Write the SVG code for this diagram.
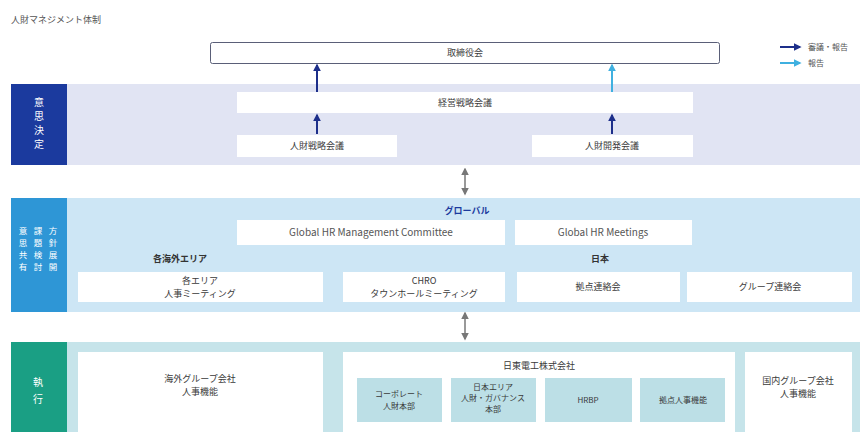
<svg xmlns="http://www.w3.org/2000/svg" width="860" height="432" viewBox="0 0 860 432">
<defs>
<style>
text{font-family:"Noto Sans CJK JP","Noto Sans",sans-serif;}
.t{font-size:9px;fill:#3a3a3a;text-anchor:middle;}
.en{font-size:10px;fill:#555;text-anchor:middle;}
.lbl{font-size:10px;fill:#fff;text-anchor:middle;}
.sm{font-size:8.5px;fill:#fff;text-anchor:middle;}
.w{fill:#fff;}
.in{fill:#bcdfe6;}
.hd{font-size:9px;font-weight:bold;text-anchor:middle;}
.nv{stroke:#1d2f8a;stroke-width:2;fill:none;}
.lb{stroke:#3fb0e0;stroke-width:2;fill:none;}
.gr{stroke:#777;stroke-width:1.5;fill:none;}
</style>
<marker id="mn" viewBox="0 0 10 10" refX="8" refY="5" markerWidth="4" markerHeight="4" orient="auto-start-reverse"><path d="M0,0 L10,5 L0,10 z" fill="#1d2f8a"/></marker>
<marker id="ml" viewBox="0 0 10 10" refX="8" refY="5" markerWidth="4" markerHeight="4" orient="auto-start-reverse"><path d="M0,0 L10,5 L0,10 z" fill="#3fb0e0"/></marker>
<marker id="mg" viewBox="0 0 10 10" refX="8" refY="5" markerWidth="5" markerHeight="5" orient="auto-start-reverse"><path d="M0,0 L10,5 L0,10 z" fill="#777"/></marker>
</defs>
<rect width="860" height="432" fill="#fff"/>
<text x="11" y="23" style="font-size:9px;fill:#555">人財マネジメント体制</text>

<g id="legend">
<line x1="780" y1="47" x2="800" y2="47" class="nv" marker-end="url(#mn)"/>
<text x="808" y="50" style="font-size:8px;fill:#555">審議・報告</text>
<line x1="780" y1="63" x2="800" y2="63" class="lb" marker-end="url(#ml)"/>
<text x="808" y="66" style="font-size:8px;fill:#555">報告</text>
</g>

<g id="bands">
<rect x="67" y="84" width="793" height="81" fill="#e1e4f3"/>
<rect x="67" y="198" width="793" height="114" fill="#cde6f5"/>
<rect x="67" y="342" width="793" height="90" fill="#c6e4ea"/>
</g>

<g id="sec-decision">
<rect x="11" y="84" width="56" height="81" fill="#1b3a9e"/>
<text class="lbl" x="39" y="106">意</text>
<text class="lbl" x="39" y="120">思</text>
<text class="lbl" x="39" y="134">決</text>
<text class="lbl" x="39" y="148">定</text>
</g>
<g id="sec-policy">
<rect x="11" y="198" width="56" height="114" fill="#2e96d6"/>
<text class="sm" x="53" y="234">方</text><text class="sm" x="53" y="246">針</text><text class="sm" x="53" y="258">展</text><text class="sm" x="53" y="270">開</text>
<text class="sm" x="38" y="234">課</text><text class="sm" x="38" y="246">題</text><text class="sm" x="38" y="258">検</text><text class="sm" x="38" y="270">討</text>
<text class="sm" x="23" y="234">意</text><text class="sm" x="23" y="246">思</text><text class="sm" x="23" y="258">共</text><text class="sm" x="23" y="270">有</text>
</g>
<g id="sec-exec">
<rect x="11" y="342" width="56" height="90" fill="#1a9f84"/>
<text class="lbl" x="38" y="386">執</text>
<text class="lbl" x="38" y="403">行</text>
</g>

<g id="board">
<rect x="210.5" y="42.5" width="509" height="21" rx="2" fill="#fff" stroke="#5a5f78" stroke-width="1"/>
<text class="t" x="465" y="56">取締役会</text>
</g>
<g id="mgmt-strategy"><rect class="w" x="237" y="92" width="456" height="21"/><text class="t" x="465" y="106">経営戦略会議</text></g>
<g id="hr-strategy"><rect class="w" x="237" y="135" width="160" height="22"/><text class="t" x="317" y="149">人財戦略会議</text></g>
<g id="hr-dev"><rect class="w" x="532" y="135" width="161" height="22"/><text class="t" x="612" y="149">人財開発会議</text></g>

<text class="hd" x="467" y="214" style="fill:#1b3a9e">グローバル</text>
<g id="ghrmc"><rect class="w" x="237" y="220" width="268" height="25"/><text class="en" x="371" y="236">Global HR Management Committee</text></g>
<g id="ghrm"><rect class="w" x="515" y="220" width="177" height="25"/><text class="en" x="603" y="236">Global HR Meetings</text></g>
<text class="hd" x="180" y="262" style="fill:#333">各海外エリア</text>
<text class="hd" x="600" y="262" style="fill:#333">日本</text>
<g id="area-meeting"><rect class="w" x="78" y="272" width="245" height="30"/><text class="t" x="200" y="284">各エリア</text><text class="t" x="200" y="297">人事ミーティング</text></g>
<g id="chro"><rect class="w" x="343" y="272" width="162" height="30"/><text class="t" x="424" y="284">CHRO</text><text class="t" x="424" y="297">タウンホールミーティング</text></g>
<g id="site-liaison"><rect class="w" x="517" y="272" width="163" height="30"/><text class="t" x="598" y="290">拠点連絡会</text></g>
<g id="group-liaison"><rect class="w" x="687" y="272" width="165" height="30"/><text class="t" x="770" y="290">グループ連絡会</text></g>

<g id="overseas-hr"><rect class="w" x="78" y="352" width="245" height="80"/><text class="t" x="200" y="382">海外グループ会社</text><text class="t" x="200" y="395">人事機能</text></g>
<g id="nitto"><rect class="w" x="343" y="352" width="392" height="80"/><text class="t" x="539" y="369">日東電工株式会社</text></g>
<g id="corp-hr"><rect class="in" x="357" y="378" width="85" height="44"/><text class="t" x="399" y="397" style="font-size:8px">コーポレート</text><text class="t" x="399" y="409" style="font-size:8px">人財本部</text></g>
<g id="japan-area"><rect class="in" x="451" y="378" width="85" height="44"/><text class="t" x="493" y="390" style="font-size:8px">日本エリア</text><text class="t" x="493" y="401" style="font-size:8px">人財・ガバナンス</text><text class="t" x="493" y="412" style="font-size:8px">本部</text></g>
<g id="hrbp"><rect class="in" x="545" y="378" width="87" height="44"/><text class="t" x="588" y="403" style="font-size:8px">HRBP</text></g>
<g id="site-hr"><rect class="in" x="640" y="378" width="85" height="44"/><text class="t" x="683" y="403" style="font-size:8px">拠点人事機能</text></g>
<g id="domestic-hr"><rect class="w" x="745" y="352" width="107" height="80"/><text class="t" x="798" y="384">国内グループ会社</text><text class="t" x="798" y="397">人事機能</text></g>

<g id="connectors">
<line x1="317" y1="92" x2="317" y2="65" class="nv" marker-end="url(#mn)"/>
<line x1="612" y1="92" x2="612" y2="65" class="lb" marker-end="url(#ml)"/>
<line x1="317" y1="134" x2="317" y2="115" class="nv" marker-end="url(#mn)"/>
<line x1="612" y1="134" x2="612" y2="115" class="nv" marker-end="url(#mn)"/>
<line x1="465" y1="169" x2="465" y2="194" class="gr" marker-start="url(#mg)" marker-end="url(#mg)"/>
<line x1="465" y1="313" x2="465" y2="339" class="gr" marker-start="url(#mg)" marker-end="url(#mg)"/>
</g>
</svg>
